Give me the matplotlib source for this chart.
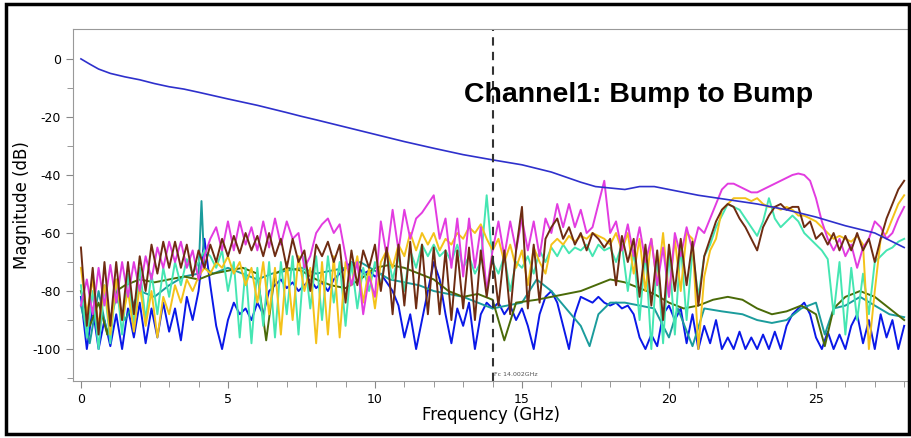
import numpy as np
import matplotlib
matplotlib.use("Agg")
import matplotlib.pyplot as plt
from matplotlib.patches import Rectangle

plt.rcParams['axes.unicode_minus'] = False

# Frequency grid (GHz) shared by the dense crosstalk traces
freq = np.round(np.arange(0, 28.01, 0.2), 1)

# Insertion loss (blue, top curve)
il_freq = [0, 0.3, 0.6, 1.0, 1.5, 2.0, 2.5, 3.0, 3.5, 4.0, 5.0, 6.0, 7.0, 7.5, 8.0, 9.0,
           10.0, 11.0, 12.0, 13.0, 14.0, 15.0, 16.0, 17.0, 17.5, 18.0, 18.5, 19.0, 19.5,
           20.0, 21.0, 22.0, 23.0, 24.0, 25.0, 26.0, 27.0, 27.5, 28.0]
il_db = [0, -1.8, -3.5, -5, -6.2, -7.2, -8.5, -9.6, -10.4, -11.5, -13.8, -16, -18.5, -19.8,
         -21, -23.5, -26, -28.5, -30.8, -33, -34.8, -36.5, -39, -42.5, -44, -44.5, -45, -44,
         -44, -45, -47, -48.5, -50, -52, -54.5, -57.5, -60, -62.5, -65]

# Crosstalk traces on the 0.2 GHz grid
magenta = [-85, -76, -88, -72, -85, -71, -84, -70, -82, -70,
           -80, -68, -76, -65, -72, -63, -70, -63, -72, -66,
           -76, -68, -62, -58, -66, -56, -66, -56, -64, -58,
           -66, -56, -65, -55, -64, -56, -62, -60, -72, -68,
           -60, -57, -55, -60, -57, -68, -78, -70, -88, -75,
           -82, -56, -68, -52, -66, -52, -62, -55, -53, -50,
           -47, -62, -55, -72, -55, -75, -55, -72, -58, -80,
           -66, -56, -68, -56, -66, -55, -66, -56, -68, -55,
           -60, -50, -58, -50, -58, -52, -60, -58, -50, -42,
           -60, -56, -66, -57, -68, -58, -70, -62, -78, -65,
           -82, -60, -68, -58, -66, -58, -60, -55, -50, -45,
           -43, -43, -44, -45, -46, -46, -45, -44, -43, -42,
           -41, -40, -39.5, -40, -42, -48, -56, -62, -66, -62,
           -68, -64, -72, -65, -62, -56, -58, -62, -60, -55, -51]

brown = [-65, -92, -72, -95, -70, -92, -70, -90, -70, -88,
         -68, -80, -64, -74, -63, -72, -63, -72, -64, -75,
         -66, -72, -64, -70, -62, -68, -61, -67, -60, -66,
         -61, -68, -60, -68, -62, -72, -62, -70, -66, -80,
         -64, -68, -63, -70, -64, -84, -66, -78, -66, -72,
         -64, -80, -65, -88, -64, -85, -63, -86, -64, -88,
         -65, -88, -66, -90, -66, -86, -65, -90, -66, -82,
         -68, -85, -66, -88, -66, -51, -86, -64, -84, -62,
         -58, -55, -62, -58, -64, -60, -66, -60, -62, -65,
         -62, -78, -61, -70, -62, -82, -64, -85, -66, -90,
         -64, -80, -62, -78, -63, -85, -68, -62, -56, -52,
         -50, -51, -55, -58, -62, -66, -58, -54, -51, -50,
         -52, -51, -51, -58, -56, -62, -60, -64, -60, -66,
         -61, -66, -60, -66, -62, -70, -62, -55, -50, -45, -42]

yellow = [-72, -88, -76, -92, -78, -95, -76, -90, -80, -94,
          -78, -92, -80, -96, -82, -88, -78, -84, -76, -80,
          -75, -72, -74, -70, -72, -68, -74, -70, -78, -72,
          -84, -70, -88, -72, -95, -70, -90, -68, -80, -72,
          -98, -70, -95, -68, -96, -70, -78, -68, -84, -72,
          -86, -70, -66, -72, -64, -68, -60, -66, -60, -64,
          -60, -66, -62, -64, -60, -62, -58, -60, -57, -62,
          -66, -62, -70, -64, -72, -66, -78, -65, -70, -74,
          -64, -62, -64, -61, -63, -61, -62, -60, -61, -62,
          -64, -60, -66, -60, -74, -62, -80, -62, -78, -60,
          -82, -62, -80, -60, -62, -100, -75, -66, -62, -52,
          -50, -48, -48, -48, -49, -48, -50, -51, -51, -52,
          -51, -52, -54, -54, -55, -56, -58, -60, -62, -61,
          -62, -63, -61, -64, -100, -80, -62, -60, -55, -50, -47]

mint = [-78, -96, -80, -100, -78, -98, -76, -95, -74, -92,
        -72, -90, -74, -88, -72, -82, -70, -78, -69, -74,
        -70, -66, -68, -72, -66, -80, -70, -96, -72, -98,
        -72, -92, -70, -96, -70, -88, -68, -95, -68, -86,
        -68, -90, -68, -84, -70, -92, -70, -86, -72, -80,
        -70, -78, -66, -76, -68, -80, -66, -72, -64, -68,
        -64, -68, -66, -70, -64, -72, -68, -74, -70, -47,
        -70, -74, -68, -80, -70, -72, -68, -74, -66, -70,
        -65, -68, -64, -67, -65, -66, -64, -68, -64, -66,
        -65, -70, -64, -80, -66, -90, -66, -100, -68, -98,
        -66, -95, -64, -90, -66, -82, -68, -64, -58, -54,
        -50, -51, -52, -55, -58, -61, -56, -48, -55, -58,
        -56, -54, -56, -60, -62, -64, -66, -69, -88, -70,
        -95, -72, -90, -74, -88, -70, -68, -66, -65, -63, -62]

blue = [-82, -100, -86, -100, -90, -99, -88, -100, -86, -96,
        -84, -98, -86, -96, -84, -94, -86, -97, -82, -90,
        -80, -62, -78, -92, -100, -90, -84, -88, -86, -90,
        -84, -88, -80, -78, -76, -79, -77, -80, -78, -76,
        -79, -77, -80, -76, -74, -72, -70, -71, -74, -73,
        -75, -74, -77, -80, -85, -96, -88, -100, -90, -80,
        -70, -76, -88, -98, -86, -92, -84, -100, -88, -84,
        -86, -84, -88, -85, -90, -86, -92, -100, -88, -82,
        -80, -84, -92, -100, -88, -82, -83, -84, -82, -84,
        -85, -84, -86, -85, -88, -96, -100, -95, -99, -88,
        -85, -90, -86, -98, -88, -100, -92, -98, -90, -100,
        -96, -100, -94, -100, -96, -100, -95, -100, -94, -100,
        -92, -88, -86, -84, -88, -96, -100, -94, -100, -95,
        -100, -92, -88, -98, -90, -100, -88, -96, -90, -100, -92]

# Smoother traces with their own frequency points
teal_freq = [0.0, 0.3, 0.6, 0.9, 1.2, 1.5, 2.0, 2.5, 3.0, 3.5, 4.0, 4.1, 4.2, 4.5, 5.0, 5.5,
             6.0, 6.5, 7.0, 7.5, 8.0, 8.5, 9.0, 9.5, 10.0, 10.5, 11.0, 11.5, 12.0, 12.5,
             13.0, 13.5, 14.0, 14.5, 15.0, 15.5, 16.0, 16.5, 17.0, 17.3, 17.6, 18.0, 18.5,
             19.0, 19.5, 20.0, 20.3, 20.8, 21.2, 21.8, 22.5, 23.0, 23.5, 24.0, 24.5, 25.0,
             25.3, 25.6, 26.0, 26.5, 27.0, 27.5, 28.0]
teal = [-85, -98, -80, -95, -82, -90, -80, -82, -78, -75, -74, -49, -72, -74, -72, -74,
        -76, -74, -73, -72, -74, -73, -72, -70, -73, -76, -77, -78, -80, -81,
        -82, -84, -86, -85, -84, -76, -80, -86, -92, -99, -88, -84, -84,
        -85, -86, -96, -86, -99, -86, -87, -88, -90, -91, -90, -86, -84,
        -95, -86, -85, -82, -85, -88, -89]

olive_freq = [0.0, 0.3, 0.6, 0.9, 1.2, 1.5, 2.0, 2.5, 3.0, 3.5, 4.0, 4.5, 5.0, 5.5, 6.0,
              6.3, 6.6, 7.0, 7.5, 8.0, 8.5, 9.0, 9.5, 10.0, 10.5, 11.0, 11.5, 12.0, 12.5,
              13.0, 13.5, 14.0, 14.4, 14.8, 15.5, 16.0, 16.5, 17.0, 17.5, 18.0, 18.5, 19.0,
              19.5, 20.0, 20.5, 21.0, 21.5, 22.0, 22.5, 23.0, 23.5, 24.0, 24.5, 25.0, 25.3,
              25.6, 26.0, 26.5, 27.0, 27.5, 28.0]
olive = [-80, -92, -84, -95, -80, -78, -76, -77, -76, -75, -76, -74, -73, -72, -74,
         -97, -74, -72, -73, -76, -78, -79, -76, -72, -71, -72, -74, -76, -80,
         -82, -81, -83, -97, -84, -83, -82, -81, -80, -78, -76, -77, -79,
         -81, -84, -86, -85, -83, -82, -83, -86, -88, -87, -85, -88, -99,
         -86, -82, -80, -82, -86, -90]

cursor_freq = 14.002

fig = plt.figure(figsize=(9.12, 4.38), dpi=100)
ax = fig.add_axes([73 / 912, 1 - 381 / 438, (908 - 73) / 912, (381 - 29) / 438])

lw = 1.4
ax.plot(freq, blue, color='#0a18e8', lw=lw)
ax.plot(teal_freq, teal, color='#1b9c9c', lw=lw)
ax.plot(olive_freq, olive, color='#4a6a08', lw=lw)
ax.plot(freq, mint, color='#45e6b2', lw=lw)
ax.plot(freq, yellow, color='#f4c21a', lw=lw)
ax.plot(freq, magenta, color='#e23ce0', lw=lw)
ax.plot(freq, brown, color='#6e2c12', lw=lw)
ax.plot(il_freq, il_db, color='#2e30cc', lw=1.2)

ax.axvline(cursor_freq, color='#333333', lw=1.5, ls=(0, (4, 3)))
ax.text(cursor_freq + 0.05, -109.5, 'Fc 14.002GHz', fontsize=4.5, color='#555555',
        va='bottom', ha='left')

ax.text(18.95, -12.4, 'Channel1: Bump to Bump', fontsize=20.5, fontweight='bold',
        family='Liberation Sans', ha='center', va='center')

ax.set_xlim(-0.27, 28.13)
ax.set_ylim(-111, 10.3)
ax.set_xticks([0, 5, 10, 15, 20, 25])
ax.set_xticks(np.arange(0, 29, 1), minor=True)
ax.set_yticks([0, -20, -40, -60, -80, -100])
ax.set_yticks(np.arange(0, -111, -10), minor=True)
ax.tick_params(axis='both', which='both', colors='#888888', labelcolor='black',
               labelsize=9, direction='out')
ax.tick_params(which='major', length=5)
ax.tick_params(which='minor', length=4)

for side in ['left', 'bottom', 'top']:
    ax.spines[side].set_color('#999999')
ax.spines['right'].set_visible(False)

ax.set_xlabel('Frequency (GHz)', fontsize=12, labelpad=0)
ax.set_ylabel('Magnitude (dB)', fontsize=12, labelpad=1)

fig.patches.append(Rectangle((6 / 912, 4 / 438), 903 / 912, 430 / 438, transform=fig.transFigure,
                             fill=False, edgecolor='black', lw=2.5))

fig.savefig('out.png', dpi=100)
